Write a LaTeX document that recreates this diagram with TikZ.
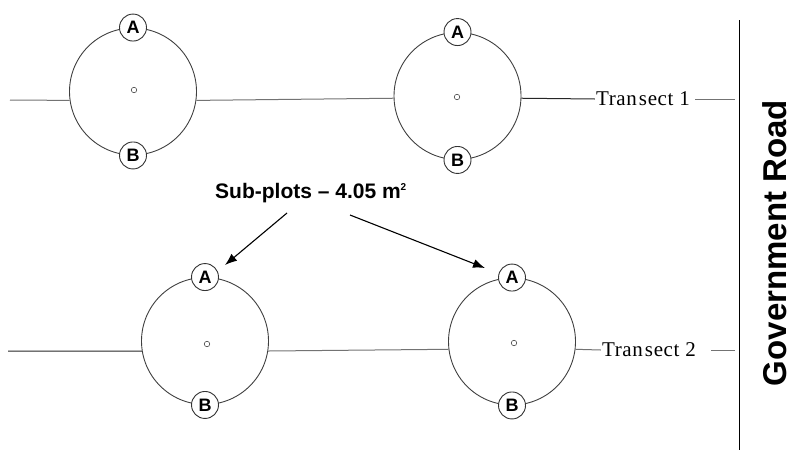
\documentclass[tikz,border=0pt]{standalone}
\usepackage{fontspec}
\setmainfont{Liberation Serif}
\setsansfont{Liberation Sans}
\usetikzlibrary{arrows.meta}
\begin{document}
\begin{tikzpicture}[x=1pt,y=-1pt,
  plot/.style={circle,draw=black!75,line width=0.9pt,fill=white,inner sep=0pt,minimum size=127pt},
  sub/.style={circle,draw=black!80,line width=0.9pt,fill=white,inner sep=0pt,minimum size=27pt,
              font=\sffamily\bfseries\fontsize{18}{18}\selectfont},
  dot/.style={circle,draw=black!70,line width=0.6pt,inner sep=0pt,minimum size=5.5pt},
  tline/.style={line width=1pt,draw=black!85},
  gline/.style={line width=1pt,draw=black!55},
  ttext/.style={font=\fontsize{21}{21}\selectfont\addfontfeature{LetterSpace=3},inner sep=1pt},
  arr/.style={line width=1.1pt,-{Latex[length=12pt,width=9pt]}}]
\useasboundingbox (0,0) rectangle (799,453);

% plots
\node[plot] (c1) at (133,91.5) {};
\node[plot] (c2) at (457.5,96) {};
\node[plot] (c3) at (205,341) {};
\node[plot] (c4) at (512,341.5) {};

% centre markers
\node[dot] (d1) at (134,90) {};
\node[dot] (d2) at (457,97) {};
\node[dot] (d3) at (207,344) {};
\node[dot] (d4) at (514,343) {};

% sub-plots A and B
\node[sub] (a1) at (c1.north) {A};
\node[sub] (b1) at (c1.south) {B};
\node[sub] (a2) at (c2.north) {A};
\node[sub] (b2) at (c2.south) {B};
\node[sub] (a3) at (c3.north) {A};
\node[sub] (b3) at (c3.south) {B};
\node[sub] (a4) at (c4.north) {A};
\node[sub] (b4) at (c4.south) {B};

% transect labels
\node[ttext] (t1) at (643,99) {Tran\kern2pt sect 1};
\node[ttext] (t2) at (649,350) {Tran\kern2pt sect 2};

% road
\coordinate (r1) at (739.5,20);
\coordinate (r2) at (739.5,450);
\draw[line width=1.3pt] (r1) -- (r2);
\node[rotate=90,font=\sffamily\bfseries\fontsize{33}{33}\selectfont] (road) at (775,243) {Government Road};

% transect 1
\coordinate (s1) at (10,100);
\coordinate (e1) at (735,99);
\draw[gline] (s1) -- (c1.188);
\draw[gline] (c1.-8) -- (c2.182.7);
\draw[tline] (c2.-2.7) -- (t1.west);
\draw[gline] ([xshift=4pt]t1.east) -- (e1);

% transect 2
\coordinate (s2) at (8,351);
\coordinate (e2) at (735,350);
\draw[tline] (s2) -- (c3.189);
\draw[gline] (c3.-9) -- (c4.187.6);
\draw[gline] (c4.-7.6) -- (t2.west);
\draw[gline] ([xshift=14pt]t2.east) -- (e2);

% sub-plots label and arrows
\node[font=\sffamily\bfseries\fontsize{21}{21}\selectfont] (lab) at (311,193) {Sub-plots -- 4.05 m\textsuperscript{\fontsize{10}{10}\selectfont 2}};
\coordinate (p1) at (287,213);
\coordinate (q1) at (225,265);
\coordinate (p2) at (350,215);
\coordinate (q2) at (485,268);
\draw[arr] (p1) -- (q1);
\draw[arr] (p2) -- (q2);
\end{tikzpicture}
\end{document}
